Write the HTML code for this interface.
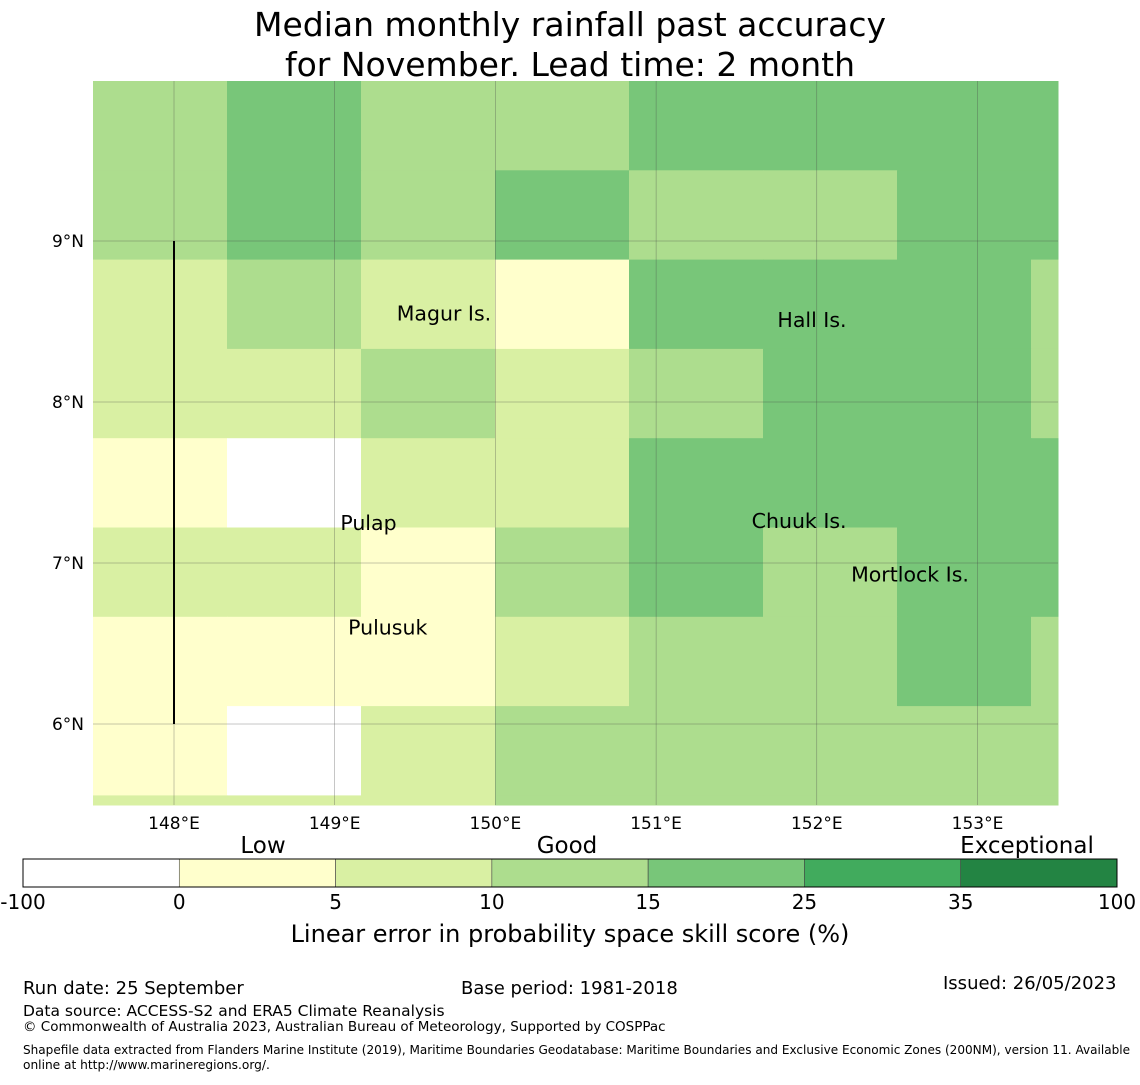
<!DOCTYPE html>
<html><head><meta charset="utf-8"><style>
body{margin:0;background:#fff;font-family:"Liberation Sans","DejaVu Sans",sans-serif}
svg text{font-family:"DejaVu Sans","Liberation Sans",sans-serif}
</style></head><body>
<svg id="chart" width="1140" height="1080" xmlns="http://www.w3.org/2000/svg">
<text x="570" y="36" font-size="33" text-anchor="middle">Median monthly rainfall past accuracy</text>
<text x="570" y="76" font-size="33" text-anchor="middle">for November. Lead time: 2 month</text>
<g id="cells"></g>
<g id="grid"></g>
<line x1="174" y1="241" x2="174" y2="724" stroke="#000" stroke-width="2"/>
<g id="labels" font-size="20.5"></g>
<g id="cbar"></g>
<text x="570" y="942" font-size="24" text-anchor="middle">Linear error in probability space skill score (%)</text>
<g font-size="18">
<text x="23" y="994">Run date: 25 September</text>
<text x="461" y="994">Base period: 1981-2018</text>
<text x="943" y="989">Issued: 26/05/2023</text>
<text x="23" y="1016" font-size="15.5">Data source: ACCESS-S2 and ERA5 Climate Reanalysis</text>
<text x="23" y="1031" font-size="13.5">© Commonwealth of Australia 2023, Australian Bureau of Meteorology, Supported by COSPPac</text>
<text x="23" y="1054" font-size="12.2" textLength="1107" lengthAdjust="spacingAndGlyphs">Shapefile data extracted from Flanders Marine Institute (2019), Maritime Boundaries Geodatabase: Maritime Boundaries and Exclusive Economic Zones (200NM), version 11. Available</text>
<text x="23" y="1069" font-size="12.2">online at http://www.marineregions.org/.</text>
</g>
</svg>
<script>
// Skill score values per cell (rows top->bottom, cols west->east)
const row0 = [12, 20, 12, 12, 20, 20, 20, 20];
const row1 = [12, 20, 12, 20, 12, 12, 20, 20];
const row2 = [7, 12, 7, 2, 20, 20, 20, 12];
const row3 = [7, 7, 12, 7, 12, 20, 20, 12];
const row4 = [2, -5, 7, 7, 20, 20, 20, 20];
const row5 = [7, 7, 2, 12, 20, 12, 20, 20];
const row6 = [2, 2, 2, 7, 12, 12, 20, 12];
const row7 = [2, -5, 7, 12, 12, 12, 12, 12];
const row8 = [7, 7, 7, 12, 12, 12, 12, 12];
const lonTicks = [148, 149, 150, 151, 152, 153];
const latTicks = [9, 8, 7, 6];
const cbBounds = [-100, 0, 5, 10, 15, 25, 35, 100];
const cbColors = ["#ffffff", "#ffffcc", "#d9f0a3", "#addd8e", "#78c679", "#41ab5d", "#238443"];
const places = ["Magur Is.", "Hall Is.", "Pulap", "Chuuk Is.", "Mortlock Is.", "Pulusuk"];
const placeLon = [149.68, 151.97, 149.21, 151.89, 152.58, 149.33];
const placeLat = [8.55, 8.51, 7.25, 7.26, 6.93, 6.6];

const NS = "http://www.w3.org/2000/svg";
const rows = [row0, row1, row2, row3, row4, row5, row6, row7, row8];
const X0 = 93, X1 = 1058, Y0 = 81, Y1 = 805;
const lonX = lon => 174 + (lon - 148) * 160.7;
const latY = lat => 241 + (9 - lat) * 161;
const cellW = 134, cellH = 89.3;
function color(v) { for (let i = 0; i < cbColors.length; i++) if (v < cbBounds[i + 1]) return cbColors[i]; return cbColors[cbColors.length - 1]; }
function mk(tag, attrs, parent) { const e = document.createElementNS(NS, tag); for (const k in attrs) e.setAttribute(k, attrs[k]); parent.appendChild(e); return e; }

const cells = document.getElementById("cells");
rows.forEach((r, ri) => r.forEach((v, ci) => {
  const x = X0 + ci * cellW, y = Y0 + ri * cellH;
  const w = Math.min(cellW, X1 - x), h = Math.min(cellH, Y1 - y);
  const el = mk("rect", { x: x, y: y, width: w + 0.5, height: h + 0.5, fill: color(v) }, cells);
  
  
}));

const grid = document.getElementById("grid");
lonTicks.forEach(l => {
  const x = lonX(l);
  const ln = mk("line", { x1: x, y1: Y0, x2: x, y2: Y1, stroke: "#444", "stroke-width": 0.5, opacity: 0.6 }, grid);
  
  
  const t = mk("text", { x: x, y: 829, "font-size": 17, "text-anchor": "middle" }, grid);
  t.textContent = l + "°E";
  
  
});
latTicks.forEach(l => {
  const y = latY(l);
  const ln = mk("line", { x1: X0, y1: y, x2: X1, y2: y, stroke: "#444", "stroke-width": 0.5, opacity: 0.6 }, grid);
  
  
  const t = mk("text", { x: 84, y: y + 6, "font-size": 17, "text-anchor": "end" }, grid);
  t.textContent = l + "°N";
  
  
});

const labels = document.getElementById("labels");
places.forEach((p, i) => {
  const t = mk("text", { x: lonX(placeLon[i]), y: latY(placeLat[i]) + 7, "text-anchor": "middle" }, labels);
  t.textContent = p;
  
  
});

const cb = document.getElementById("cbar");
const CB0 = 23, CB1 = 1117, segW = (CB1 - CB0) / cbColors.length;
cbColors.forEach((c, i) => {
  const r = mk("rect", { x: CB0 + i * segW, y: 859, width: segW, height: 28, fill: c, stroke: "#444", "stroke-width": 0.6 }, cb);
  
  
});
mk("rect", { x: CB0, y: 859, width: CB1 - CB0, height: 28, fill: "none", stroke: "#000", "stroke-width": 1 }, cb);
cbBounds.forEach((b, i) => {
  const t = mk("text", { x: CB0 + i * segW, y: 909, "font-size": 20, "text-anchor": "middle" }, cb);
  t.textContent = b;
  
  
});
[["Low", 263], ["Good", 567], ["Exceptional", 1027]].forEach(([s, x]) => {
  const t = mk("text", { x: x, y: 853, "font-size": 23, "text-anchor": "middle" }, cb);
  t.textContent = s;
  
  
});
</script>
</body></html>
